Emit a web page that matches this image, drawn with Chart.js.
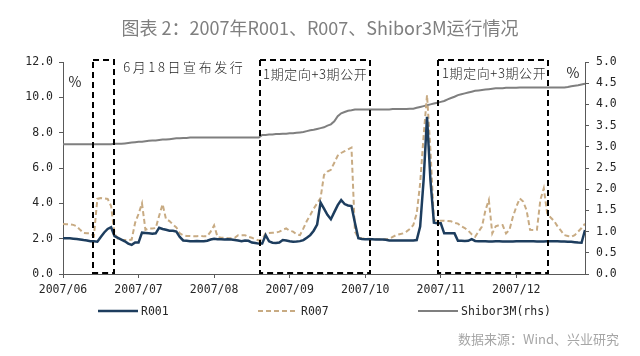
<!DOCTYPE html>
<html>
<head>
<meta charset="utf-8">
<script src="https://cdn.jsdelivr.net/npm/chart.js@4/dist/chart.umd.min.js"></script>
<style>
html,body{margin:0;padding:0;background:#fff;}
#wrap{position:relative;width:640px;height:356px;}
</style>
</head>
<body>
<div id="wrap"><canvas id="c"></canvas></div>
<script>
// ---- data ----
const titleText = '图表 2：2007年R001、R007、Shibor3M运行情况';
const sourceText = '数据来源：Wind、兴业研究';
const tickLabels = ['2007/06','2007/07','2007/08','2007/09','2007/10','2007/11','2007/12'];
const tickIndex = [0,22,44,66,88,110,132];
const seriesNames = ['R001','R007','Shibor3M(rhs)'];

const r001 = [
2.03,2.03,2.02,2.0,1.98,1.95,1.92,1.9,1.85,1.85,
1.83,2.1,2.35,2.55,2.65,2.15,2.05,1.95,1.85,1.72,
1.65,1.78,1.78,2.34,2.32,2.3,2.28,2.3,2.62,2.55,
2.5,2.45,2.45,2.4,2.1,1.9,1.88,1.86,1.85,1.87,
1.86,1.85,1.88,1.95,2.0,1.97,1.96,1.95,1.96,1.95,
1.93,1.9,1.85,1.9,1.88,1.78,1.76,1.72,1.72,2.2,
1.85,1.77,1.76,1.78,1.92,1.9,1.85,1.83,1.84,1.86,
1.92,2.05,2.2,2.45,2.8,4.05,3.7,3.35,3.1,3.5,
3.9,4.19,3.96,3.88,3.85,2.9,2.02,1.98,1.97,1.96,
1.96,1.95,1.95,1.95,1.94,1.9,1.9,1.89,1.89,1.89,
1.89,1.89,1.9,1.92,2.68,5.3,8.9,5.3,2.9,2.87,
2.87,2.3,2.3,2.3,2.3,1.88,1.88,1.87,1.88,1.97,
1.87,1.86,1.85,1.85,1.84,1.84,1.85,1.85,1.84,1.84,
1.84,1.84,1.85,1.85,1.85,1.85,1.85,1.85,1.84,1.84,
1.84,1.85,1.85,1.85,1.85,1.84,1.84,1.83,1.82,1.8,
1.78,1.77,2.49
];

const r007 = [
2.83,2.82,2.81,2.78,2.7,2.5,2.32,2.3,2.3,2.15,
4.25,4.3,4.28,4.25,3.85,2.3,2.0,1.92,1.92,1.92,
1.95,2.9,3.4,4.0,2.5,2.58,2.58,2.6,3.3,3.95,
3.1,3.0,2.8,2.64,2.3,2.2,2.15,2.15,2.14,2.14,
2.15,2.13,2.13,2.4,2.75,2.1,2.05,2.05,2.03,2.03,
2.05,2.2,2.2,2.2,2.1,2.05,1.96,1.9,1.96,2.3,
2.32,2.34,2.34,2.4,2.5,2.58,2.45,2.4,2.25,2.2,
2.58,3.0,3.34,3.7,4.0,4.3,5.6,5.8,5.9,6.3,
6.7,6.85,6.95,7.05,7.15,2.4,2.05,2.02,2.0,2.0,
1.98,1.98,1.97,1.96,1.96,2.0,2.1,2.2,2.25,2.3,
2.4,2.55,2.77,3.43,5.13,7.8,10.13,7.0,3.06,3.02,
3.02,3.02,3.0,2.98,2.9,2.85,2.7,2.6,2.45,2.25,
2.11,2.4,2.68,3.6,4.19,2.3,2.7,2.77,2.77,2.3,
2.5,3.24,3.8,4.28,4.1,3.6,2.5,2.49,2.5,4.19,
4.85,3.43,3.2,3.0,2.7,2.45,2.2,2.15,2.1,2.2,
2.4,2.6,2.85
];

const shibor3m = [
3.06,3.06,3.06,3.06,3.06,3.06,3.06,3.06,3.06,3.06,
3.06,3.06,3.06,3.06,3.06,3.07,3.07,3.07,3.08,3.09,
3.10,3.11,3.12,3.12,3.13,3.14,3.15,3.15,3.16,3.17,
3.17,3.18,3.19,3.20,3.20,3.21,3.21,3.22,3.22,3.22,
3.22,3.22,3.22,3.22,3.22,3.22,3.22,3.22,3.22,3.22,
3.22,3.22,3.22,3.22,3.22,3.22,3.22,3.22,3.28,3.28,
3.29,3.29,3.30,3.30,3.31,3.31,3.32,3.32,3.33,3.34,
3.35,3.37,3.39,3.40,3.42,3.44,3.46,3.50,3.53,3.60,
3.72,3.79,3.82,3.85,3.86,3.88,3.88,3.88,3.88,3.88,
3.88,3.88,3.88,3.88,3.88,3.88,3.89,3.89,3.89,3.89,
3.89,3.90,3.90,3.92,3.94,3.96,3.98,4.00,4.02,4.04,
4.06,4.08,4.12,4.15,4.18,4.22,4.24,4.26,4.28,4.30,
4.32,4.33,4.34,4.35,4.36,4.37,4.38,4.38,4.38,4.39,
4.39,4.39,4.39,4.40,4.40,4.40,4.40,4.40,4.40,4.40,
4.40,4.40,4.40,4.40,4.40,4.40,4.40,4.41,4.43,4.44,
4.45,4.47,4.49
];

// periods highlighted by dashed boxes (in trading-day index units)
const boxStart = [8.7, 57.4, 109.2];
const boxEnd   = [14.9, 89.4, 141.2];
const boxNotes = ['6月18日宣布发行','1期定向+3期公开','1期定向+3期公开'];

// ---- chart ----
const MONO = '"DejaVu Sans Mono", monospace';
const CJK = '"Noto Sans CJK SC", "Noto Sans", sans-serif';
const axisColor = '#595959';
const textColor = '#262626';

const toXY = arr => arr.map((v, i) => ({x: i, y: v}));

const decor = {
  id: 'decor',
  afterDatasetsDraw(chart) {
    const ctx = chart.ctx;
    const xs = chart.scales.x, ys = chart.scales.y;
    ctx.save();
    // dashed boxes
    ctx.strokeStyle = '#000';
    ctx.lineWidth = 2;
    ctx.setLineDash([6, 4]);
    const yTop = ys.getPixelForValue(12.12);
    const yBot = ys.getPixelForValue(0) - 1;
    for (let k = 0; k < boxStart.length; k++) {
      const x1 = Math.round(xs.getPixelForValue(boxStart[k]));
      const x2 = Math.round(xs.getPixelForValue(boxEnd[k]));
      ctx.strokeRect(x1, yTop, x2 - x1, yBot - yTop);
    }
    ctx.setLineDash([]);
    // box notes
    ctx.fillStyle = textColor;
    ctx.textBaseline = 'middle';
    ctx.textAlign = 'left';
    ctx.font = '300 13px ' + CJK;
    const noteDx = [9, 3, 4];
    const noteY = [67, 74, 73];
    const noteSp = ['2.6px', '0.6px', '0.6px'];
    for (let k = 0; k < boxNotes.length; k++) {
      const anchor = k === 0 ? boxEnd[k] : boxStart[k];
      const x = xs.getPixelForValue(anchor) + noteDx[k];
      if ('letterSpacing' in ctx) ctx.letterSpacing = noteSp[k];
      ctx.fillText(boxNotes[k], x, noteY[k]);
    }
    if ('letterSpacing' in ctx) ctx.letterSpacing = '0px';
    // unit markers
    ctx.font = '14px ' + CJK;
    ctx.textAlign = 'center';
    ctx.fillText('%', 75, 82);
    ctx.fillText('%', 573, 73);
    ctx.restore();
  },
  afterDraw(chart) {
    const ctx = chart.ctx;
    ctx.save();
    // title
    ctx.fillStyle = '#7f7f7f';
    ctx.font = '18px ' + CJK;
    ctx.textAlign = 'center';
    ctx.textBaseline = 'middle';
    ctx.fillText(titleText, 320, 28);
    // legend
    const legX = [98, 258, 418];
    const legY = 311;
    chart.data.datasets.forEach((ds, k) => {
      ctx.strokeStyle = ds.borderColor;
      ctx.lineWidth = ds.borderWidth;
      ctx.setLineDash(ds.borderDash || []);
      ctx.beginPath();
      ctx.moveTo(legX[k], legY);
      ctx.lineTo(legX[k] + 40, legY);
      ctx.stroke();
      ctx.setLineDash([]);
      ctx.fillStyle = textColor;
      ctx.font = '11.5px ' + MONO;
      ctx.textAlign = 'left';
      ctx.fillText(ds.label, legX[k] + 43, legY + 1);
    });
    // source
    ctx.fillStyle = '#a6a6a6';
    ctx.font = '13px ' + CJK;
    ctx.textAlign = 'right';
    ctx.fillText(sourceText, 619, 339);
    ctx.restore();
  }
};

new Chart(document.getElementById('c'), {
  type: 'line',
  data: {
    datasets: [
      { label: seriesNames[0], data: toXY(r001), yAxisID: 'y',
        borderColor: '#1d3d5e', borderWidth: 2.5, pointRadius: 0, tension: 0 },
      { label: seriesNames[1], data: toXY(r007), yAxisID: 'y',
        borderColor: '#c8ab83', borderWidth: 2, borderDash: [5, 3], pointRadius: 0, tension: 0 },
      { label: seriesNames[2], data: toXY(shibor3m), yAxisID: 'y1',
        borderColor: '#7f7f7f', borderWidth: 2, pointRadius: 0, tension: 0 }
    ]
  },
  options: {
    responsive: true,
    maintainAspectRatio: false,
    animation: false,
    layout: { padding: { top: 62, left: 0, right: 0, bottom: 0 } },
    plugins: { legend: { display: false }, tooltip: { enabled: false } },
    scales: {
      x: {
        type: 'linear', min: 0, max: r001.length - 1,
        afterFit: s => { s.height = 82; },
        afterBuildTicks: s => { s.ticks = tickIndex.map(v => ({ value: v })); },
        grid: { drawOnChartArea: false, drawTicks: true, tickLength: 4, color: axisColor },
        border: { display: true, color: axisColor, width: 1 },
        ticks: {
          autoSkip: false, maxRotation: 0, padding: 5,
          color: textColor, font: { family: MONO, size: 11.5 },
          callback: v => { const k = tickIndex.indexOf(v); return k >= 0 ? tickLabels[k] : ''; }
        }
      },
      y: {
        position: 'left', min: 0, max: 12,
        afterFit: s => { s.width = 63; },
        grid: { drawOnChartArea: false, tickLength: 4, color: axisColor },
        border: { display: true, color: axisColor, width: 1 },
        ticks: { stepSize: 2, padding: 6, color: textColor, font: { family: MONO, size: 11.5 },
                 callback: v => v.toFixed(1) }
      },
      y1: {
        position: 'right', min: 0, max: 5,
        afterFit: s => { s.width = 55; },
        grid: { drawOnChartArea: false, tickLength: 4, color: axisColor },
        border: { display: true, color: axisColor, width: 1 },
        ticks: { stepSize: 0.5, padding: 7, color: textColor, font: { family: MONO, size: 11.5 },
                 callback: v => v.toFixed(1) }
      }
    }
  },
  plugins: [decor]
});
</script>
</body>
</html>
